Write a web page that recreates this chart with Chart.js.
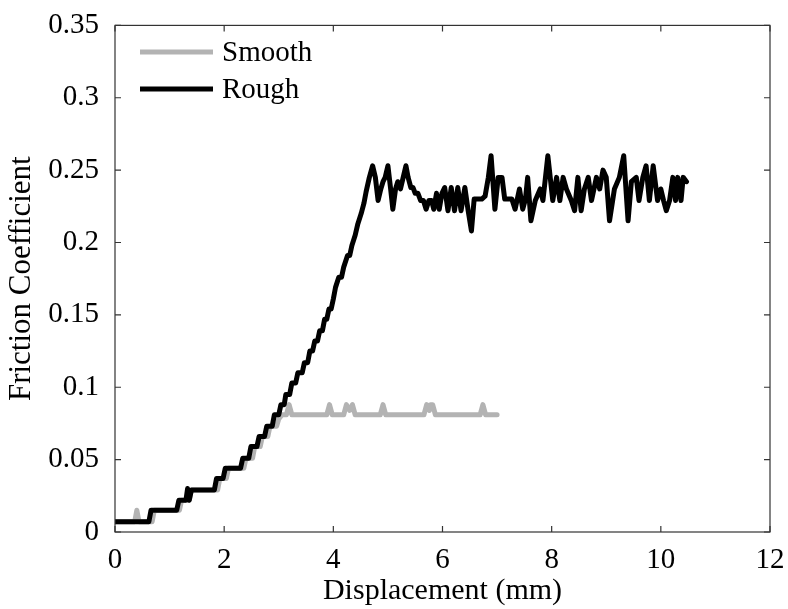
<!DOCTYPE html>
<html>
<head>
<meta charset="utf-8">
<script src="https://cdn.jsdelivr.net/npm/chart.js@4"></script>
<style>
    html, body { margin: 0; padding: 0; background: #fff; }
    #wrap { width: 788px; height: 609px; }
</style>
</head>
<body>
<div id="wrap"><canvas id="chart" width="788" height="609"></canvas></div>
<script>
//----------------------------------------------------------------------------------------------------------------------
// Data
//----------------------------------------------------------------------------------------------------------------------

    var seriesNames = ['Smooth', 'Rough'];

    var smoothX = [0, 0.36, 0.4, 0.44, 0.68, 0.72, 1.18, 1.22, 1.36, 1.4, 1.88, 1.92, 2.04, 2.08, 2.36, 2.4, 2.52, 2.56,
        2.66, 2.7, 2.8, 2.84, 2.96, 3.0, 3.06, 3.14, 3.19, 3.24, 3.88, 3.93, 3.98, 4.19, 4.24, 4.3, 4.35, 4.4, 4.86, 4.91,
        4.96, 5.66, 5.71, 5.76, 5.78, 5.82, 5.87, 6.69, 6.74, 6.79, 7.0];
    var smoothY = [0.007, 0.007, 0.015, 0.007, 0.007, 0.015, 0.015, 0.022, 0.022, 0.029, 0.029, 0.037, 0.037, 0.044,
        0.044, 0.051, 0.051, 0.059, 0.059, 0.066, 0.066, 0.073, 0.073, 0.078, 0.081, 0.081, 0.088, 0.081, 0.081, 0.088,
        0.081, 0.081, 0.088, 0.084, 0.088, 0.081, 0.081, 0.088, 0.081, 0.081, 0.088, 0.084, 0.088, 0.088, 0.081, 0.081,
        0.088, 0.081, 0.081];

    // rough surface: loading ramp
    var roughRiseX = [0, 0.62, 0.66, 1.13, 1.17, 1.3, 1.33, 1.36, 1.4, 1.82, 1.86, 1.98, 2.02, 2.3, 2.34, 2.45, 2.49,
        2.6, 2.64, 2.74, 2.78, 2.88, 2.92, 3.0, 3.04, 3.1, 3.13, 3.2, 3.24, 3.31, 3.35, 3.43, 3.47, 3.53, 3.57, 3.62,
        3.66, 3.71, 3.75, 3.8, 3.84, 3.88, 3.92, 3.96, 4.0, 4.04, 4.1, 4.15, 4.19, 4.26, 4.3, 4.34, 4.4, 4.45, 4.51,
        4.56, 4.6];
    var roughRiseY = [0.007, 0.007, 0.015, 0.015, 0.022, 0.022, 0.03, 0.022, 0.029, 0.029, 0.037, 0.037, 0.044, 0.044,
        0.051, 0.051, 0.059, 0.059, 0.066, 0.066, 0.073, 0.073, 0.081, 0.081, 0.088, 0.088, 0.095, 0.095, 0.103, 0.103,
        0.110, 0.110, 0.117, 0.117, 0.125, 0.125, 0.132, 0.132, 0.139, 0.139, 0.147, 0.147, 0.154, 0.154, 0.161, 0.169,
        0.176, 0.176, 0.183, 0.191, 0.191, 0.198, 0.205, 0.213, 0.220, 0.227, 0.235];

    // rough surface: sliding plateau
    var roughSlideX = [4.66, 4.72, 4.77, 4.82, 4.87, 4.91, 4.95, 5.0, 5.05, 5.09, 5.14, 5.18, 5.23, 5.28, 5.33, 5.37,
        5.42, 5.46, 5.5, 5.55, 5.6, 5.65, 5.7, 5.75, 5.8, 5.84, 5.89, 5.94, 5.99, 6.04, 6.1, 6.16, 6.22, 6.28, 6.34,
        6.41, 6.47, 6.53, 6.58, 6.65, 6.72, 6.78, 6.84, 6.89, 6.96, 7.02, 7.09, 7.14, 7.2, 7.27, 7.33, 7.41, 7.47, 7.52,
        7.56, 7.62, 7.7, 7.79, 7.84, 7.93, 8.02, 8.09, 8.15, 8.21, 8.27, 8.36, 8.42, 8.48, 8.54, 8.6, 8.67, 8.73, 8.82,
        8.88, 8.94, 9.0, 9.06, 9.15, 9.24, 9.32, 9.4, 9.46, 9.55, 9.6, 9.67, 9.73, 9.79, 9.86, 9.94, 10.0, 10.05, 10.1,
        10.16, 10.22, 10.27, 10.31, 10.37, 10.41, 10.47];
    var roughSlideY = [0.245, 0.253, 0.245, 0.229, 0.237, 0.242, 0.245, 0.253, 0.237, 0.223, 0.237, 0.242, 0.237,
        0.245, 0.253, 0.245, 0.238, 0.238, 0.234, 0.234, 0.229, 0.229, 0.223, 0.229, 0.229, 0.223, 0.234, 0.223, 0.234,
        0.238, 0.222, 0.238, 0.222, 0.238, 0.222, 0.238, 0.222, 0.208, 0.23, 0.23, 0.23, 0.232, 0.245, 0.26, 0.223,
        0.245, 0.245, 0.23, 0.23, 0.23, 0.223, 0.237, 0.223, 0.23, 0.245, 0.215, 0.229, 0.237, 0.229, 0.26, 0.229, 0.245,
        0.229, 0.245, 0.237, 0.229, 0.222, 0.245, 0.222, 0.237, 0.245, 0.229, 0.245, 0.237, 0.25, 0.245, 0.215, 0.237,
        0.245, 0.26, 0.215, 0.242, 0.245, 0.229, 0.245, 0.253, 0.229, 0.253, 0.229, 0.237, 0.229, 0.222, 0.229, 0.245,
        0.229, 0.245, 0.229, 0.245, 0.242];

    var xTicks = [0, 2, 4, 6, 8, 10, 12];
    var yTicks = [0, 0.05, 0.1, 0.15, 0.2, 0.25, 0.3, 0.35];

//----------------------------------------------------------------------------------------------------------------------
// Chart
//----------------------------------------------------------------------------------------------------------------------

    var serif = '"Liberation Serif", "Times New Roman", serif';
    var axisColor = '#333';

    function points(xs, ys) {
        return xs.map(function(x, i) { return { x: x, y: ys[i] }; });
    }

    // box, inward ticks and the in-plot legend (matlab look)
    var frame = {
        id: 'frame',
        afterDraw: function(chart) {
            var ctx = chart.ctx, a = chart.chartArea;
            var sx = chart.scales.x, sy = chart.scales.y;

            ctx.save();
            ctx.strokeStyle = axisColor;
            ctx.lineWidth = 1.2;
            ctx.strokeRect(a.left, a.top, a.right - a.left, a.bottom - a.top);

            ctx.beginPath();
            xTicks.forEach(function(v) {
                var px = sx.getPixelForValue(v);
                ctx.moveTo(px, a.bottom); ctx.lineTo(px, a.bottom - 6);
                ctx.moveTo(px, a.top); ctx.lineTo(px, a.top + 6);
            });
            yTicks.forEach(function(v) {
                var py = sy.getPixelForValue(v);
                ctx.moveTo(a.left, py); ctx.lineTo(a.left + 6, py);
                ctx.moveTo(a.right, py); ctx.lineTo(a.right - 6, py);
            });
            ctx.stroke();

            // legend
            ctx.font = '29px ' + serif;
            ctx.textBaseline = 'middle';
            ctx.fillStyle = '#000';
            var rows = [52, 89];
            chart.data.datasets.slice().sort(function(p, q) { return p.legendIndex - q.legendIndex; })
                .forEach(function(ds, i) {
                    ctx.strokeStyle = ds.borderColor;
                    ctx.lineWidth = ds.borderWidth;
                    ctx.beginPath();
                    ctx.moveTo(140, rows[i]); ctx.lineTo(213, rows[i]);
                    ctx.stroke();
                    ctx.fillText(ds.label, 222, rows[i] + 1);
                });
            ctx.restore();
        }
    };

    new Chart(document.getElementById('chart'), {
        type: 'line',
        plugins: [frame],
        data: {
            datasets: [{
                label: seriesNames[1],
                legendIndex: 1,
                data: points(roughRiseX.concat(roughSlideX), roughRiseY.concat(roughSlideY)),
                borderColor: '#000',
                borderWidth: 5,
                order: 0
            }, {
                label: seriesNames[0],
                legendIndex: 0,
                data: points(smoothX, smoothY),
                borderColor: '#b3b3b3',
                borderWidth: 5,
                order: 1
            }]
        },
        options: {
            responsive: false,
            animation: false,
            layout: {
                padding: { left: 0, top: 18, right: 18, bottom: 0 }
            },
            elements: {
                point: { radius: 0 },
                line: { tension: 0, borderJoinStyle: 'round', borderCapStyle: 'round' }
            },
            plugins: {
                legend: { display: false },
                tooltip: { enabled: false }
            },
            scales: {
                x: {
                    type: 'linear',
                    min: 0,
                    max: 12,
                    afterFit: function(scale) { scale.height = 77; },
                    afterBuildTicks: function(scale) {
                        scale.ticks = xTicks.map(function(v) { return { value: v }; });
                    },
                    grid: { display: false },
                    border: { display: false },
                    ticks: {
                        color: '#000',
                        padding: 3,
                        maxRotation: 0,
                        font: { family: serif, size: 29 }
                    },
                    title: {
                        display: true,
                        text: 'Displacement (mm)',
                        color: '#000',
                        padding: { top: 0, bottom: 0 },
                        font: { family: serif, size: 30 }
                    }
                },
                y: {
                    min: 0,
                    max: 0.35,
                    afterFit: function(scale) { scale.width = 115; },
                    afterBuildTicks: function(scale) {
                        scale.ticks = yTicks.map(function(v) { return { value: v }; });
                    },
                    grid: { display: false },
                    border: { display: false },
                    ticks: {
                        color: '#000',
                        padding: 8,
                        font: { family: serif, size: 29 },
                        callback: function(v) { return String(+v.toFixed(2)); }
                    },
                    title: {
                        display: true,
                        text: 'Friction Coefficient',
                        color: '#000',
                        padding: { top: 3, bottom: 0 },
                        font: { family: serif, size: 31 }
                    }
                }
            }
        }
    });
</script>
</body>
</html>
